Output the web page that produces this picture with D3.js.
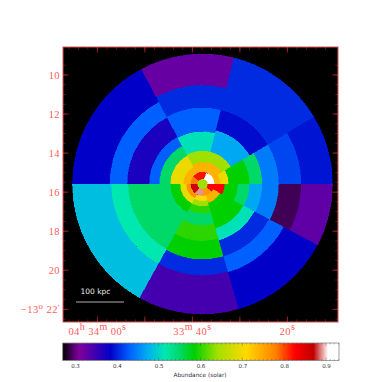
<!DOCTYPE html>
<html>
<head>
<meta charset="utf-8">
<script src="https://d3js.org/d3.v7.min.js"></script>
<style>
  html, body { margin: 0; padding: 0; background: #fff; }
  svg { display: block; }
</style>
</head>
<body>
<div class="canvas"></div>
<script>
// abundance map bins: one wedge per bearing range (deg from north, clockwise),
// ring edges in arcmin from outside to inside, abundance (solar) per ring
const wedgeStart = [-90, -28, 14, 59, 90, 118, 164, 209];
const wedgeEnd = [-28, 14, 59, 90, 118, 164, 209, 270];
const ringEdges = [
  [6.67, 4.75, 3.85, 2.72, 2.2, 1.64, 0.97, 0.6],
  [6.67, 5.05, 3.9, 2.67, 1.69, 1.1, 0.6],
  [6.67, 3.9, 2.82, 1.69, 1.13, 0.6],
  [6.67, 5.05, 3.9, 3.05, 2.4, 1.33, 0.9, 0.6],
  [6.67, 5.05, 3.9, 3.05, 2.4, 1.8, 1.13, 0.6],
  [6.67, 4.7, 3.85, 3.0, 2.36, 1.0, 0.6],
  [6.67, 4.67, 3.85, 2.9, 2.1, 1.49, 1.13, 0.87, 0.6],
  [6.67, 4.67, 3.8, 2.3, 1.64, 1.13, 0.82, 0.6]
];
const ringAbund = [
  [.385, .43, .37, .43, .55, .695, .74],
  [.325, .405, .43, .51, .64, .74],
  [.405, .39, .47, .64, .74],
  [.395, .418, .445, .55, .585, .695, .74],
  [.33, .29, .445, .47, .55, .585, .825],
  [.385, .43, .405, .51, .585, .74],
  [.345, .405, .585, .6, .55, .6, .64, .71],
  [.485, .515, .55, .55, .585, .695, .765]
];

// innermost bins around the peak
const coreStart = [-90, -50, 20, 90, 130, 180, 220, -180];
const coreEnd = [-50, 20, 90, 130, 180, 220, 270, 180];
const coreInner = [.25, .25, .25, .25, .25, .25, .25, 0];
const coreOuter = [.6, .6, .6, .6, .6, .6, .6, .25];
const coreAbund = [.78, .82, .91, .825, .76, .89, .86, .64];

// colour bar
const barStops = [.27, .29, .31, .385, .43, .475, .515, .55, .585, .64, .71, .78, .825, .87, .905, .932];
const barColors = ['#000000', '#400055', '#80009a', '#0000c8', '#0060ff', '#00b0f0', '#00e8b0', '#00d868', '#00d000', '#a0e000', '#ffd800', '#ff8000', '#ff0000', '#c00000', '#ffffff', '#ffffff'];
const barTicks = [.3, .4, .5, .6, .7, .8, .9];

// axis ticks
const decTicks = [10, 12, 14, 16, 18, 20, 22];
const raTicks = [0, 20, 40]; // seconds past 04h 34m 00s, going west
const raLabels = [['04', 'h', ' 34', 'm', ' 00', 's'], ['33', 'm', ' 40', 's'], ['20', 's']];
const scaleKpc = 100;

const width = 382, height = 382;
const margin = {top: 47, right: 44, bottom: 60, left: 63};
const plotW = width - margin.left - margin.right;
const plotH = height - margin.top - margin.bottom;

const svg = d3.select('.canvas')
  .append('svg')
  .attr('width', width)
  .attr('height', height);

const graph = svg.append('g')
  .attr('transform', `translate(${margin.left},${margin.top})`);

// scales
const y = d3.scaleLinear().domain([10, 22]).range([75 - 47, 309.3 - 47]);
const x = d3.scaleLinear().domain([0, 20]).range([97.4 - 63, 192.4 - 63]);
const radius = d3.scaleLinear().domain([0, 1]).range([0, 19.5]);
const color = d3.scaleLinear().domain(barStops).range(barColors);

graph.append('rect')
  .attr('width', plotW)
  .attr('height', plotH)
  .attr('fill', '#000');

const center = graph.append('g')
  .attr('transform', `translate(${202.5 - 63},${184 - 47})`);

const arc = d3.arc();
const deg = Math.PI / 180;

const bins = [];
wedgeStart.forEach((start, w) => {
  ringAbund[w].forEach((abund, r) => {
    bins.push({start, end: wedgeEnd[w], outer: ringEdges[w][r], inner: ringEdges[w][r + 1], abund});
  });
});
coreAbund.forEach((abund, i) => {
  bins.push({start: coreStart[i], end: coreEnd[i], outer: coreOuter[i], inner: coreInner[i], abund});
});

center.selectAll('path')
  .data(bins)
  .enter()
  .append('path')
  .attr('d', d => arc({
    innerRadius: radius(d.inner),
    outerRadius: radius(d.outer),
    startAngle: d.start * deg,
    endAngle: d.end * deg
  }))
  .attr('fill', d => color(d.abund))
  .attr('stroke', d => color(d.abund))
  .attr('stroke-width', 0.4)
  .attr('shape-rendering', 'crispEdges');

// scale bar
graph.append('line')
  .attr('x1', 76 - 63).attr('x2', 124 - 63)
  .attr('y1', 302 - 47).attr('y2', 302 - 47)
  .attr('stroke', '#ddd')
  .attr('stroke-width', 0.8);
graph.append('text')
  .attr('x', 95.5 - 63)
  .attr('y', 294 - 47)
  .attr('text-anchor', 'middle')
  .attr('fill', '#eee')
  .attr('font-family', 'DejaVu Sans')
  .attr('font-size', 7.5)
  .text(`${scaleKpc} kpc`);

// ticks on all four sides, pointing into the plot
const yMinor = d3.range(9.5, 23, .5).filter(d => y(d) > 0 && y(d) < plotH);
const xMinor = d3.range(-6, 50, 2).filter(d => x(d) > 0 && x(d) < plotW);
const xMajor = d3.range(-0, 50, 10).filter(d => x(d) < plotW);

const drawTicks = (vals, scale, len, vertical, stroke) => {
  [0, 1].forEach(side => {
    graph.selectAll(null)
      .data(vals)
      .enter()
      .append('line')
      .attr('x1', d => vertical ? scale(d) : (side ? plotW : 0))
      .attr('x2', d => vertical ? scale(d) : (side ? plotW - len : len))
      .attr('y1', d => vertical ? (side ? plotH : 0) : scale(d))
      .attr('y2', d => vertical ? (side ? plotH - len : len) : scale(d))
      .attr('stroke', stroke)
      .attr('stroke-width', 1);
  });
};
drawTicks(yMinor, y, 2.7, false, '#701010');
drawTicks(decTicks, y, 5.5, false, '#a02020');
drawTicks(xMinor, x, 2.7, true, '#701010');
drawTicks(xMajor, x, 5.5, true, '#a02020');

graph.append('rect')
  .attr('width', plotW)
  .attr('height', plotH)
  .attr('fill', 'none')
  .attr('stroke', '#e05050')
  .attr('stroke-width', 1);

// tick labels, sexagesimal
const labelColor = '#ff5a5a';
const labelFont = 'Liberation Serif';

decTicks.forEach((d, i) => {
  const t = graph.append('text')
    .attr('x', -3)
    .attr('y', y(d) + 3.5)
    .attr('text-anchor', 'end')
    .attr('fill', labelColor)
    .attr('font-family', labelFont)
    .attr('font-size', 10.5)
    .attr('letter-spacing', 0.4);
  if (i === decTicks.length - 1) {
    t.append('tspan').text('\u221213');
    t.append('tspan').attr('dy', -4).attr('font-size', 9).text('o');
    t.append('tspan').attr('dy', 4).text(' 22');
    t.append('tspan').attr('dy', -2).attr('font-size', 8).text('\u2032');
  } else {
    t.text(d);
  }
});

raTicks.forEach((d, i) => {
  const t = graph.append('text')
    .attr('x', x(d))
    .attr('y', 335 - 47)
    .attr('text-anchor', 'middle')
    .attr('fill', labelColor)
    .attr('font-family', labelFont)
    .attr('font-size', 10.5)
    .attr('letter-spacing', 0.4);
  raLabels[i].forEach((s, j) => {
    const sup = j % 2 === 1;
    t.append('tspan')
      .attr('dy', sup ? -5 : (j ? 5 : 0))
      .attr('font-size', sup ? 10 : 10.5)
      .text(s);
  });
});

// colour bar
const barX = d3.scaleLinear().domain([.3, .9]).range([75, 326]);
const barLeft = barX.invert(62.7), barRight = barX.invert(339);
const barG = svg.append('g');
const grad = svg.append('defs').append('linearGradient').attr('id', 'bar');
grad.selectAll('stop')
  .data(barStops)
  .enter()
  .append('stop')
  .attr('offset', d => (d - barLeft) / (barRight - barLeft))
  .attr('stop-color', (d, i) => barColors[i]);

barG.append('rect')
  .attr('x', 62.7).attr('y', 343)
  .attr('width', 276.3).attr('height', 17.5)
  .attr('fill', 'url(#bar)')
  .attr('stroke', '#888')
  .attr('stroke-width', 0.8);

const barAxis = d3.axisBottom(barX)
  .tickValues(barTicks)
  .tickSize(0)
  .tickPadding(4)
  .tickFormat(d3.format('.1f'));
const barAxisG = barG.append('g')
  .attr('transform', 'translate(0,360.5)')
  .call(barAxis);
barAxisG.select('.domain').remove();
barAxisG.selectAll('text')
  .attr('fill', '#333')
  .attr('font-family', 'DejaVu Sans')
  .attr('font-size', 5.5);

// little ticks along both edges of the bar
const barMinor = d3.range(28, 94).map(d => d / 100);
[[343, 1], [360.5, -1]].forEach(([edge, dir]) => {
  barG.selectAll(null)
    .data(barMinor)
    .enter()
    .append('line')
    .attr('x1', d => barX(d)).attr('x2', d => barX(d))
    .attr('y1', edge)
    .attr('y2', (d, i) => edge + dir * ((i + 3) % 10 === 5 ? 3 : 1.5))
    .attr('stroke', '#333')
    .attr('stroke-opacity', 0.6)
    .attr('stroke-width', 0.5);
});

barG.append('text')
  .attr('x', 200)
  .attr('y', 376.5)
  .attr('text-anchor', 'middle')
  .attr('fill', '#333')
  .attr('font-family', 'DejaVu Sans')
  .attr('font-size', 5.8)
  .text('Abundance (solar)');
</script>
</body>
</html>
